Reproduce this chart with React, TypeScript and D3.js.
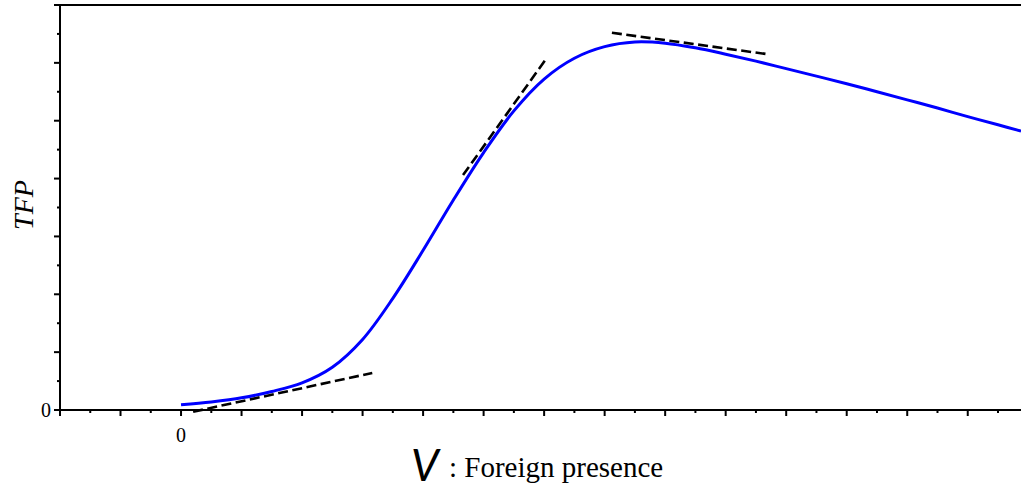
import React, { useEffect, useRef } from 'react';
import * as d3 from 'd3';

// foreign presence V and TFP
const vValues = [0, 0.5, 1, 1.5, 2, 2.5, 3, 3.5, 4, 4.5, 5, 5.5, 6, 6.5, 7, 7.5, 8, 8.5, 9, 9.5, 10, 10.5, 11, 11.5, 12, 12.5, 13, 13.5, 13.88];
const tfpValues = [0.09, 0.14, 0.21, 0.32, 0.47, 0.74, 1.22, 1.93, 2.76, 3.63, 4.45, 5.17, 5.72, 6.08, 6.28, 6.36, 6.34, 6.26, 6.15, 6.03, 5.9, 5.77, 5.64, 5.5, 5.36, 5.22, 5.07, 4.93, 4.82];

// tangent segments [v1, tfp1, v2, tfp2]
const tangents = [
    [0.2, -0.03, 3.16, 0.64],
    [4.66, 4.06, 6.02, 6.05],
    [7.12, 6.52, 9.69, 6.15],
];

const xDomain = [-2, 13.88];
const yDomain = [0, 7];
const xTicks = d3.range(-2, 14, 0.5);
const yTicks = d3.range(0, 7.01, 0.5);

const App = () => {
    const svgRef = useRef(null);

    useEffect(() => {
        const width = 1021;
        const height = 492;
        const margin = { top: 5, left: 60, bottom: 82 };

        const svg = d3.select(svgRef.current);
        svg.selectAll('*').remove();
        svg.attr('width', width).attr('height', height);

        const x = d3.scaleLinear().domain(xDomain).range([margin.left, width]);
        const y = d3.scaleLinear().domain(yDomain).range([height - margin.bottom, margin.top]);

        const isMajor = (d) => Math.abs(d - Math.round(d)) < 1e-6;

        // x ticks
        svg.append('g').selectAll('line').data(xTicks).enter().append('line')
            .attr('x1', d => x(d)).attr('x2', d => x(d))
            .attr('y1', y(0)).attr('y2', d => y(0) + (isMajor(d) ? 6 : 3))
            .attr('stroke', '#000').attr('stroke-width', 2);

        // y ticks
        svg.append('g').selectAll('line').data(yTicks).enter().append('line')
            .attr('y1', d => y(d)).attr('y2', d => y(d))
            .attr('x1', x(xDomain[0])).attr('x2', d => x(xDomain[0]) - (isMajor(d) ? 6 : 3))
            .attr('stroke', '#000').attr('stroke-width', 2);

        // axes lines
        svg.append('path')
            .attr('d', `M${width},${y(0)}H${x(xDomain[0])}V${y(7)}H${width}`)
            .attr('fill', 'none').attr('stroke', '#000').attr('stroke-width', 2);

        // tick labels
        svg.append('text').attr('x', x(xDomain[0]) - 9).attr('y', y(0) + 7)
            .attr('text-anchor', 'end').attr('font-family', 'Liberation Serif')
            .attr('font-size', 20).text('0');
        svg.append('text').attr('x', x(0)).attr('y', y(0) + 32)
            .attr('text-anchor', 'middle').attr('font-family', 'Liberation Serif')
            .attr('font-size', 20).text('0');

        // curve
        const pts = vValues.map((v, i) => [v, tfpValues[i]]);
        const line = d3.line()
            .x(d => x(d[0]))
            .y(d => y(d[1]))
            .curve(d3.curveCatmullRom);
        svg.append('path').datum(pts)
            .attr('fill', 'none').attr('stroke', '#0000ff').attr('stroke-width', 3)
            .attr('d', line);

        // tangents
        svg.append('g').selectAll('line').data(tangents).enter().append('line')
            .attr('x1', d => x(d[0])).attr('y1', d => y(d[1]))
            .attr('x2', d => x(d[2])).attr('y2', d => y(d[3]))
            .attr('stroke', '#000').attr('stroke-width', 2.6)
            .attr('stroke-dasharray', '10,4.5');

        // axis titles
        svg.append('text')
            .attr('transform', `translate(33,${205}) rotate(-90)`)
            .attr('text-anchor', 'middle').attr('font-family', 'Liberation Serif')
            .attr('font-style', 'italic').attr('font-size', 28).attr('fill', '#000').text('TFP');

        svg.append('text').attr('x', 411).attr('y', 481)
            .attr('font-family', 'Lato').attr('font-style', 'italic')
            .attr('font-size', 44).text('V');
        svg.append('text').attr('x', 449).attr('y', 477)
            .attr('font-family', 'Liberation Serif').attr('font-size', 29)
            .text(': Foreign presence');
    }, []);

    return <svg ref={svgRef} style={{ position: 'absolute', left: 0, top: 0 }}></svg>;
};

export default App;
